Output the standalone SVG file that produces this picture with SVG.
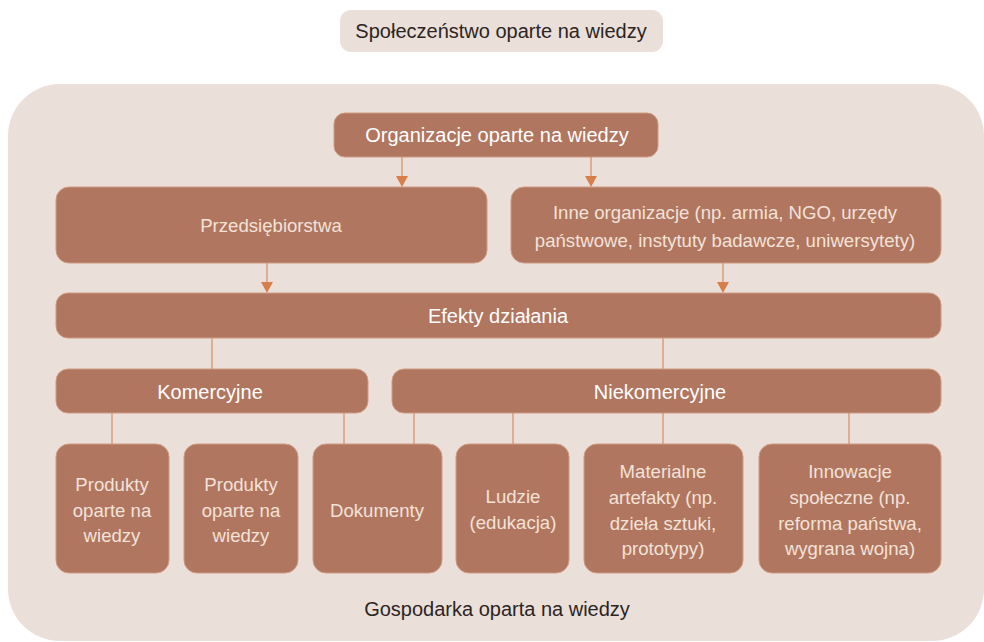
<svg xmlns="http://www.w3.org/2000/svg" width="984" height="642" viewBox="0 0 984 642">
  <style>
    .pale { fill: #ebdfd9; }
    .node { fill: #b0765f; stroke: #cf9a83; stroke-width: 1; }
    .t { font-family: "Liberation Sans", "Open Sans", sans-serif; font-size: 18.6px; text-anchor: middle; }
    .big { font-size: 20px; }
    .dark { fill: #2b2523; }
    .bold { fill: #ffffff; }
    .light { fill: #f3e2d9; }
    .wire { stroke: #d9946a; stroke-width: 1.3; fill: none; }
    .head { fill: #d67f4a; }
  </style>

  <rect width="984" height="642" fill="#ffffff"/>

  <g id="spoleczenstwo">
    <rect class="pale" x="340" y="10" width="323" height="42" rx="11"/>
    <text class="t big dark" x="501" y="38">Społeczeństwo oparte na wiedzy</text>
  </g>

  <g id="gospodarka">
    <rect class="pale" x="8" y="84" width="976" height="557" rx="52"/>
    <text class="t big dark" x="497" y="616">Gospodarka oparta na wiedzy</text>
  </g>

  <g id="connectors">
    <line class="wire" x1="402" y1="157" x2="402" y2="176"/>
    <path class="head" d="M396,176 L408,176 L402,187 Z"/>
    <line class="wire" x1="591" y1="157" x2="591" y2="176"/>
    <path class="head" d="M585,176 L597,176 L591,187 Z"/>
    <line class="wire" x1="267" y1="263" x2="267" y2="282"/>
    <path class="head" d="M261,282 L273,282 L267,293 Z"/>
    <line class="wire" x1="723" y1="263" x2="723" y2="282"/>
    <path class="head" d="M717,282 L729,282 L723,293 Z"/>
    <line class="wire" x1="212" y1="338" x2="212" y2="369"/>
    <line class="wire" x1="663" y1="338" x2="663" y2="369"/>
    <line class="wire" x1="112" y1="413" x2="112" y2="444"/>
    <line class="wire" x1="344" y1="413" x2="344" y2="444"/>
    <line class="wire" x1="414" y1="413" x2="414" y2="444"/>
    <line class="wire" x1="513" y1="413" x2="513" y2="444"/>
    <line class="wire" x1="663" y1="413" x2="663" y2="444"/>
    <line class="wire" x1="849" y1="413" x2="849" y2="444"/>
  </g>

  <g id="organizacje">
    <rect class="node" x="334" y="113" width="324" height="44" rx="11"/>
    <text class="t big bold" x="497" y="142">Organizacje oparte na wiedzy</text>
  </g>

  <g id="przedsiebiorstwa">
    <rect class="node" x="56" y="187" width="431" height="76" rx="13"/>
    <text class="t light" x="271" y="232">Przedsiębiorstwa</text>
  </g>

  <g id="inne">
    <rect class="node" x="511" y="187" width="430" height="76" rx="13"/>
    <text class="t light" x="725" y="219">Inne organizacje (np. armia, NGO, urzędy</text>
    <text class="t light" x="725" y="247">państwowe, instytuty badawcze, uniwersytety)</text>
  </g>

  <g id="efekty">
    <rect class="node" x="56" y="293" width="885" height="45" rx="12"/>
    <text class="t big bold" x="498" y="323">Efekty działania</text>
  </g>

  <g id="komercyjne">
    <rect class="node" x="56" y="369" width="312" height="44" rx="12"/>
    <text class="t big bold" x="210" y="399">Komercyjne</text>
  </g>

  <g id="niekomercyjne">
    <rect class="node" x="392" y="369" width="549" height="44" rx="12"/>
    <text class="t big bold" x="660" y="399">Niekomercyjne</text>
  </g>

  <g id="produkty1">
    <rect class="node" x="56" y="444" width="113" height="129" rx="13"/>
    <text class="t light" x="112" y="491">Produkty</text>
    <text class="t light" x="112" y="517">oparte na</text>
    <text class="t light" x="112" y="542">wiedzy</text>
  </g>

  <g id="produkty2">
    <rect class="node" x="184" y="444" width="114" height="129" rx="13"/>
    <text class="t light" x="241" y="491">Produkty</text>
    <text class="t light" x="241" y="517">oparte na</text>
    <text class="t light" x="241" y="542">wiedzy</text>
  </g>

  <g id="dokumenty">
    <rect class="node" x="313" y="444" width="129" height="129" rx="13"/>
    <text class="t light" x="377" y="517">Dokumenty</text>
  </g>

  <g id="ludzie">
    <rect class="node" x="456" y="444" width="113" height="129" rx="13"/>
    <text class="t light" x="513" y="503">Ludzie</text>
    <text class="t light" x="513" y="529">(edukacja)</text>
  </g>

  <g id="materialne">
    <rect class="node" x="584" y="444" width="159" height="129" rx="13"/>
    <text class="t light" x="663" y="478">Materialne</text>
    <text class="t light" x="663" y="504">artefakty (np.</text>
    <text class="t light" x="663" y="530">dzieła sztuki,</text>
    <text class="t light" x="663" y="555">prototypy)</text>
  </g>

  <g id="innowacje">
    <rect class="node" x="759" y="444" width="182" height="129" rx="13"/>
    <text class="t light" x="850" y="478">Innowacje</text>
    <text class="t light" x="850" y="504">społeczne (np.</text>
    <text class="t light" x="850" y="530">reforma państwa,</text>
    <text class="t light" x="850" y="555">wygrana wojna)</text>
  </g>
</svg>
